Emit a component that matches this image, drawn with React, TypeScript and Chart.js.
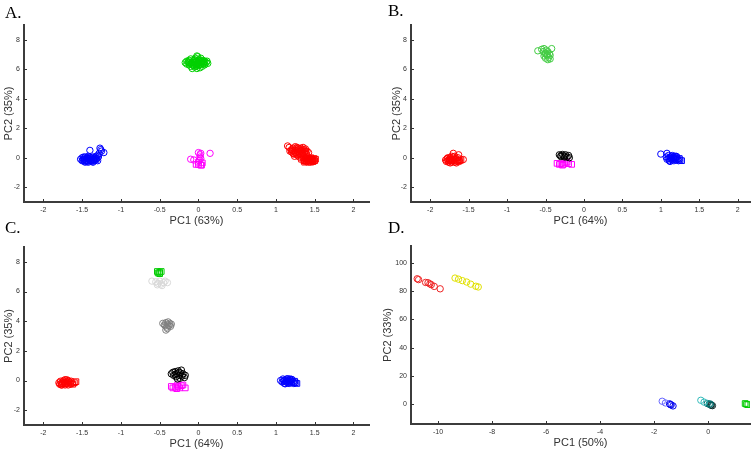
import React, { useEffect, useRef } from "react";
import { Chart, registerables } from "chart.js";

Chart.register(...registerables);

type P = [number, number];

// ---------- tick values ----------
const pcXTicks = [-2, -1.5, -1, -0.5, 0, 0.5, 1, 1.5, 2];
const pcYTicks = [-2, 0, 2, 4, 6, 8];
const dXTicks = [-10, -8, -6, -4, -2, 0];
const dYTicks = [0, 20, 40, 60, 80, 100];

// ---------- Panel A (PC1 63%, PC2 35%) ----------
const A_blue: P[] = [
  [-1.52, -0.1], [-1.5, -0.2], [-1.5, 0.0], [-1.48, -0.1], [-1.47, -0.25], [-1.46, 0.05], [-1.45, -0.15],
  [-1.44, -0.05], [-1.43, -0.25], [-1.42, 0.1], [-1.41, -0.1], [-1.4, -0.2], [-1.39, 0.0], [-1.38, -0.15],
  [-1.37, -0.25], [-1.36, 0.05], [-1.35, -0.1], [-1.34, -0.2], [-1.33, 0.0], [-1.32, -0.15], [-1.31, -0.05],
  [-1.3, -0.2], [-1.29, 0.05], [-1.46, -0.3], [-1.4, 0.05], [-1.36, -0.3], [-1.48, 0.05], [-1.32, 0.1],
  [-1.42, -0.3], [-1.47, -0.1], [-1.44, -0.15], [-1.41, -0.05], [-1.38, -0.1], [-1.35, -0.15], [-1.33, -0.1],
  [-1.45, -0.2], [-1.39, -0.2], [-1.34, -0.05], [-1.49, -0.15], [-1.43, 0.0],
  [-1.4, 0.5], [-1.27, 0.65], [-1.26, 0.55], [-1.25, 0.45], [-1.22, 0.35], [-1.28, 0.3], [-1.3, 0.15],
];
const A_green: P[] = [
  [-0.17, 6.45], [-0.15, 6.35], [-0.15, 6.55], [-0.12, 6.3], [-0.12, 6.45], [-0.12, 6.6], [-0.1, 6.2], [-0.1, 6.4],
  [-0.1, 6.7], [-0.08, 6.5], [-0.07, 6.3], [-0.06, 6.6], [-0.05, 6.15], [-0.05, 6.45], [-0.04, 6.75], [-0.03, 6.35],
  [-0.02, 6.55], [-0.02, 6.05], [-0.01, 6.85], [0.0, 6.25], [0.0, 6.45], [0.01, 6.65], [0.02, 6.1], [0.03, 6.35],
  [0.03, 6.75], [0.04, 6.5], [0.05, 6.2], [0.06, 6.6], [0.07, 6.4], [0.08, 6.3], [0.08, 6.55], [0.1, 6.45],
  [0.12, 6.4], [0.11, 6.55], [-0.08, 6.05], [-0.02, 6.9],
  [-0.09, 6.35], [-0.07, 6.45], [-0.06, 6.25], [-0.04, 6.5], [-0.03, 6.2], [-0.01, 6.4], [0.0, 6.6], [0.01, 6.3],
  [0.02, 6.5], [0.04, 6.4], [0.05, 6.55], [0.06, 6.35], [-0.05, 6.65], [-0.13, 6.5], [0.07, 6.5], [-0.02, 6.3],
];
const A_magentaCircles: P[] = [
  [0.0, 0.35], [0.03, 0.3], [0.02, 0.2], [0.15, 0.3], [-0.1, -0.1], [-0.06, -0.15], [0.02, 0.05], [0.03, -0.05], [0.01, -0.2],
];
const A_magentaSquares: P[] = [
  [-0.03, -0.45], [0.0, -0.45], [0.03, -0.5], [0.05, -0.35], [0.04, -0.5], [0.0, -0.3],
];
const A_redUpper: P[] = [
  [1.17, 0.7], [1.2, 0.55], [1.2, 0.4], [1.22, 0.65], [1.23, 0.25], [1.25, 0.5], [1.26, 0.35], [1.27, 0.7],
  [1.28, 0.15], [1.29, 0.55], [1.3, 0.4], [1.31, 0.25], [1.32, 0.65], [1.33, 0.5], [1.34, 0.3], [1.35, 0.15],
  [1.36, 0.55], [1.37, 0.4], [1.38, 0.6], [1.39, 0.25], [1.4, 0.45], [1.24, 0.1], [1.3, 0.05], [1.18, 0.45],
  [1.22, 0.3], [1.27, 0.2], [1.35, 0.7], [1.42, 0.35], [1.25, 0.75], [1.15, 0.8],
  [1.21, 0.5], [1.24, 0.4], [1.26, 0.6], [1.28, 0.45], [1.3, 0.3], [1.32, 0.45], [1.34, 0.55], [1.36, 0.3],
  [1.38, 0.45], [1.29, 0.65], [1.25, 0.3], [1.33, 0.2],
];
const A_redLower: P[] = [
  [1.33, -0.1], [1.35, 0.0], [1.36, -0.2], [1.38, -0.05], [1.39, -0.25], [1.4, 0.05], [1.41, -0.15], [1.42, -0.3],
  [1.43, -0.05], [1.44, -0.2], [1.45, 0.0], [1.46, -0.1], [1.47, -0.25], [1.48, -0.15], [1.49, -0.05], [1.5, -0.2],
  [1.51, -0.1], [1.37, -0.3], [1.45, -0.3], [1.4, -0.1], [1.37, -0.15], [1.42, -0.2], [1.44, -0.1], [1.47, -0.15],
  [1.39, -0.05], [1.48, -0.25],
];

// ---------- Panel B (PC1 64%, PC2 35%) ----------
const B_red: P[] = [
  [-1.8, -0.15], [-1.79, -0.25], [-1.78, -0.05], [-1.77, -0.2], [-1.76, -0.3], [-1.75, -0.1], [-1.74, 0.0],
  [-1.73, -0.2], [-1.72, -0.3], [-1.71, -0.1], [-1.7, 0.05], [-1.69, -0.2], [-1.68, -0.3], [-1.67, -0.05],
  [-1.66, -0.15], [-1.65, -0.25], [-1.64, 0.0], [-1.63, -0.15], [-1.62, -0.25], [-1.72, 0.1], [-1.77, 0.0],
  [-1.68, 0.1], [-1.74, -0.35], [-1.66, -0.35], [-1.75, -0.2], [-1.71, -0.2], [-1.69, -0.1], [-1.73, -0.1],
  [-1.7, 0.3], [-1.63, 0.2], [-1.57, -0.12],
];
const B_redSquares: P[] = [[-1.6, -0.15], [-1.62, -0.2]];
const B_green: P[] = [
  [-0.6, 7.25], [-0.55, 7.35], [-0.53, 7.2], [-0.52, 7.4], [-0.5, 7.1], [-0.49, 7.3], [-0.48, 6.95], [-0.47, 7.2],
  [-0.46, 6.8], [-0.45, 7.05], [-0.44, 6.7], [-0.42, 7.4], [-0.5, 6.75], [-0.52, 6.9], [-0.48, 7.0], [-0.47, 6.65],
  [-0.44, 6.95], [-0.51, 7.05],
];
const B_black: P[] = [
  [-0.32, 0.2], [-0.3, 0.15], [-0.28, 0.22], [-0.26, 0.12], [-0.24, 0.2], [-0.22, 0.05], [-0.2, 0.15],
  [-0.19, 0.0], [-0.25, 0.05], [-0.3, 0.08],
];
const B_magenta: P[] = [
  [-0.35, -0.38], [-0.32, -0.45], [-0.3, -0.4], [-0.27, -0.45], [-0.25, -0.35], [-0.22, -0.3], [-0.2, -0.4],
  [-0.16, -0.45], [-0.28, -0.5],
];
const B_blue: P[] = [
  [1.0, 0.25], [1.08, 0.3], [1.07, 0.05], [1.08, -0.1], [1.1, 0.15], [1.1, -0.05], [1.11, -0.2], [1.12, 0.05],
  [1.13, -0.1], [1.14, 0.1], [1.15, -0.15], [1.16, 0.0], [1.17, -0.2], [1.18, 0.1], [1.19, -0.05], [1.2, -0.15],
  [1.21, 0.05], [1.22, -0.1], [1.23, -0.2], [1.15, 0.15], [1.12, -0.25], [1.2, 0.1], [1.14, -0.05],
  [1.17, -0.1], [1.19, 0.0], [1.13, 0.0],
];
const B_blueSquares: P[] = [[1.25, -0.15], [1.27, -0.2], [1.24, -0.05]];

// ---------- Panel C (PC1 64%, PC2 35%) ----------
const C_red: P[] = [
  [-1.8, -0.15], [-1.79, -0.25], [-1.78, -0.05], [-1.77, -0.2], [-1.76, -0.3], [-1.75, -0.1], [-1.74, 0.0],
  [-1.73, -0.2], [-1.72, -0.3], [-1.71, -0.1], [-1.7, 0.05], [-1.69, -0.2], [-1.68, -0.3], [-1.67, -0.05],
  [-1.66, -0.15], [-1.65, -0.25], [-1.64, -0.05], [-1.63, -0.2], [-1.72, 0.05], [-1.77, -0.3], [-1.68, 0.0],
  [-1.75, -0.2], [-1.71, -0.2], [-1.73, -0.1], [-1.69, -0.1],
];
const C_redSquares: P[] = [[-1.6, -0.15], [-1.58, -0.08], [-1.62, -0.25]];
const C_greenSquares: P[] = [[-0.53, 7.35], [-0.5, 7.3], [-0.48, 7.35], [-0.5, 7.2], [-0.52, 7.25]];
const C_lightGray: P[] = [
  [-0.6, 6.7], [-0.55, 6.65], [-0.52, 6.55], [-0.5, 6.7], [-0.48, 6.5], [-0.45, 6.6], [-0.43, 6.7], [-0.4, 6.6],
  [-0.47, 6.4], [-0.53, 6.45],
];
const C_gray: P[] = [
  [-0.46, 3.85], [-0.44, 3.75], [-0.42, 3.9], [-0.41, 3.6], [-0.4, 3.8], [-0.39, 3.95], [-0.38, 3.7],
  [-0.37, 3.85], [-0.36, 3.65], [-0.42, 3.4], [-0.4, 3.5], [-0.43, 3.7], [-0.35, 3.8],
];
const C_black: P[] = [
  [-0.35, 0.45], [-0.33, 0.55], [-0.32, 0.35], [-0.3, 0.6], [-0.29, 0.25], [-0.28, 0.45], [-0.26, 0.65],
  [-0.25, 0.35], [-0.24, 0.15], [-0.23, 0.5], [-0.22, 0.7], [-0.21, 0.3], [-0.2, 0.45], [-0.18, 0.2],
  [-0.17, 0.35], [-0.27, 0.1], [-0.3, 0.4], [-0.25, 0.55],
];
const C_magenta: P[] = [
  [-0.35, -0.4], [-0.33, -0.5], [-0.3, -0.45], [-0.28, -0.55], [-0.26, -0.4], [-0.24, -0.5], [-0.22, -0.35],
  [-0.2, -0.3], [-0.17, -0.5], [-0.27, -0.3],
];
const C_blue: P[] = [
  [1.06, 0.0], [1.08, -0.1], [1.09, 0.1], [1.1, -0.05], [1.11, -0.2], [1.12, 0.05], [1.13, -0.1], [1.14, 0.1],
  [1.15, -0.15], [1.16, 0.0], [1.17, -0.2], [1.18, 0.1], [1.19, -0.05], [1.2, -0.15], [1.21, 0.05], [1.22, -0.1],
  [1.23, -0.2], [1.15, 0.12], [1.12, -0.22], [1.2, 0.08], [1.14, -0.05], [1.17, -0.08], [1.19, 0.02], [1.11, 0.0],
];
const C_blueSquares: P[] = [[1.27, -0.2], [1.25, -0.15], [1.24, -0.05]];

// ---------- Panel D (PC1 50%, PC2 33%) ----------
const D_red: P[] = [
  [-10.77, 88.8], [-10.72, 88.2], [-10.46, 86.2], [-10.37, 86.0], [-10.3, 85.2], [-10.25, 84.6], [-10.14, 83.4], [-9.92, 81.7],
];
const D_yellow: P[] = [
  [-9.37, 89.3], [-9.24, 88.5], [-9.1, 87.5], [-8.94, 86.5], [-8.79, 85.0], [-8.6, 83.5], [-8.51, 83.0],
];
const D_blueLight: P[] = [[-1.7, 2.1], [-1.58, 0.9]];
const D_blue: P[] = [[-1.43, 0.3], [-1.37, -0.5], [-1.3, -1.2], [-1.4, -0.2]];
const D_cyan: P[] = [[-0.27, 2.8], [-0.15, 1.5]];
const D_teal: P[] = [[-0.03, 0.5], [0.04, 0.0], [0.08, 0.2]];
const D_dark: P[] = [[0.1, -0.5], [0.16, -1.0], [0.12, -0.8]];
const D_green: P[] = [[1.37, 0.5], [1.42, 0.0], [1.47, -0.3]];

// ---------- text ----------
const xTitles = ["PC1 (63%)", "PC1 (64%)", "PC1 (64%)", "PC1 (50%)"];
const yTitles = ["PC2 (35%)", "PC2 (35%)", "PC2 (35%)", "PC2 (33%)"];
const panelLetters = ["A.", "B.", "C.", "D."];

type DS = { data: P[]; color: string; square?: boolean; r?: number };

const mk = (d: DS) => ({
  data: d.data.map(([x, y]) => ({ x, y })),
  borderColor: d.color,
  backgroundColor: "rgba(0,0,0,0)",
  pointBackgroundColor: "rgba(0,0,0,0)",
  pointBorderColor: d.color,
  pointBorderWidth: 1,
  pointStyle: d.square ? "rect" : "circle",
  pointRadius: d.r ?? (d.square ? 4 : 3.2),
  showLine: false,
});

const innerTicks = {
  id: "innerTicks",
  afterDraw(chart: any) {
    const { ctx, chartArea, scales } = chart;
    ctx.save();
    ctx.strokeStyle = "#333";
    ctx.lineWidth = 1;
    for (const t of scales.x.ticks) {
      const px = Math.round(scales.x.getPixelForValue(t.value)) + 0.5;
      ctx.beginPath();
      ctx.moveTo(px, chartArea.bottom);
      ctx.lineTo(px, chartArea.bottom - 3);
      ctx.stroke();
    }
    for (const t of scales.y.ticks) {
      const py = Math.round(scales.y.getPixelForValue(t.value)) + 0.5;
      ctx.beginPath();
      ctx.moveTo(chartArea.left, py);
      ctx.lineTo(chartArea.left + 3, py);
      ctx.stroke();
    }
    ctx.restore();
  },
};

type Panel = {
  left: number; top: number; w: number; h: number;
  area: { l: number; t: number; r: number; b: number };
  x: [number, number]; y: [number, number];
  xt: number[]; yt: number[];
  ytPad: number; xtPad: number;
  sets: DS[];
};

const panels: Panel[] = [
  {
    left: 0, top: 0, w: 375, h: 232, area: { l: 24, t: 25, r: 369, b: 202 },
    x: [-2.25, 2.2], y: [-3, 9], xt: pcXTicks, yt: pcYTicks, ytPad: 2.4, xtPad: 4.4,
    sets: [
      { data: A_blue, color: "#0000ff" },
      { data: A_green, color: "#00d000" },
      { data: A_magentaCircles, color: "#ff00ff" },
      { data: A_magentaSquares, color: "#ff00ff", square: true },
      { data: A_redUpper, color: "#ff0000" },
      { data: A_redLower, color: "#ff0000", square: true },
    ],
  },
  {
    left: 375, top: 0, w: 380, h: 232, area: { l: 36, t: 25, r: 378, b: 202 },
    x: [-2.25, 2.16], y: [-3, 9], xt: pcXTicks, yt: pcYTicks, ytPad: 15.4, xtPad: 4.4,
    sets: [
      { data: B_red, color: "#ff0000" },
      { data: B_redSquares, color: "#ff0000", square: true },
      { data: B_green, color: "#44cc44" },
      { data: B_black, color: "#000000" },
      { data: B_magenta, color: "#ff00ff", square: true },
      { data: B_blue, color: "#0000ff" },
      { data: B_blueSquares, color: "#0000ff", square: true },
    ],
  },
  {
    left: 0, top: 225, w: 375, h: 228, area: { l: 24, t: 22, r: 369, b: 200 },
    x: [-2.25, 2.2], y: [-3, 9], xt: pcXTicks, yt: pcYTicks, ytPad: 2.4, xtPad: 2.4,
    sets: [
      { data: C_red, color: "#ff0000" },
      { data: C_redSquares, color: "#ff0000", square: true },
      { data: C_lightGray, color: "#d8d8d8" },
      { data: C_greenSquares, color: "#00cc00", square: true },
      { data: C_gray, color: "#808080" },
      { data: C_black, color: "#000000" },
      { data: C_magenta, color: "#ff00ff", square: true },
      { data: C_blue, color: "#0000ff" },
      { data: C_blueSquares, color: "#0000ff", square: true },
    ],
  },
  {
    left: 375, top: 225, w: 380, h: 228, area: { l: 36, t: 21, r: 378, b: 199 },
    x: [-11, 1.55], y: [-14, 112], xt: dXTicks, yt: dYTicks, ytPad: 6.4, xtPad: 3.4,
    sets: [
      { data: D_red, color: "#ee2222" },
      { data: D_yellow, color: "#e0e000" },
      { data: D_blueLight, color: "#6666ff" },
      { data: D_blue, color: "#0000ee" },
      { data: D_cyan, color: "#33bbbb" },
      { data: D_teal, color: "#007070" },
      { data: D_dark, color: "#103030" },
      { data: D_green, color: "#00cc00", square: true },
    ],
  },
];

const tickFont = { family: "'Liberation Sans', Arial, sans-serif", size: 7 };
const titleFont = { family: "'Liberation Sans', Arial, sans-serif", size: 11 };

function PanelChart({ p, idx }: { p: Panel; idx: number }) {
  const ref = useRef<HTMLCanvasElement>(null);
  useEffect(() => {
    if (!ref.current) return;
    const chart = new Chart(ref.current, {
      type: "scatter",
      data: { datasets: p.sets.map(mk) as any },
      plugins: [innerTicks as any],
      options: {
        animation: false,
        responsive: false,
        maintainAspectRatio: false,
        devicePixelRatio: 1,
        layout: { padding: { top: p.area.t, right: p.w - p.area.r, left: 0, bottom: 0 } },
        plugins: { legend: { display: false }, tooltip: { enabled: false } },
        scales: {
          x: {
            type: "linear",
            min: p.x[0], max: p.x[1],
            afterBuildTicks: (s: any) => { s.ticks = p.xt.map((v) => ({ value: v })); },
            afterFit: (s: any) => { s.height = p.h - p.area.b; },
            ticks: { callback: (v: any) => String(v), font: tickFont, color: "#333", padding: 4, maxRotation: 0, autoSkip: false },
            grid: { display: false, drawTicks: false },
            border: { display: true, color: "#3c3c3c", width: 2 },
            title: { display: true, text: xTitles[idx], font: titleFont, color: "#333", padding: { top: 0, bottom: p.xtPad } },
          },
          y: {
            type: "linear",
            min: p.y[0], max: p.y[1],
            afterBuildTicks: (s: any) => { s.ticks = p.yt.map((v) => ({ value: v })); },
            afterFit: (s: any) => { s.width = p.area.l; },
            ticks: { callback: (v: any) => String(v), font: tickFont, color: "#333", padding: 4, autoSkip: false },
            grid: { display: false, drawTicks: false },
            border: { display: true, color: "#3c3c3c", width: 2 },
            title: { display: true, text: yTitles[idx], font: titleFont, color: "#333", padding: { top: p.ytPad, bottom: 0 } },
          },
        },
      } as any,
    });
    return () => chart.destroy();
  }, [p, idx]);
  return (
    <canvas
      ref={ref}
      width={p.w}
      height={p.h}
      style={{ position: "absolute", left: p.left, top: p.top, width: p.w, height: p.h }}
    />
  );
}

const letterPos = [
  { left: 5, top: 4 },
  { left: 388, top: 2 },
  { left: 5, top: 219 },
  { left: 388, top: 219 },
];

export default function App() {
  return (
    <div style={{ position: "fixed", left: 0, top: 0, width: 755, height: 453, background: "#fff", overflow: "hidden" }}>
      {panels.map((p, i) => (
        <PanelChart key={i} p={p} idx={i} />
      ))}
      {panelLetters.map((t, i) => (
        <div
          key={t}
          style={{
            position: "absolute",
            left: letterPos[i].left,
            top: letterPos[i].top,
            fontFamily: "'Liberation Serif', 'Times New Roman', serif",
            fontSize: 17,
            lineHeight: "17px",
            color: "#000",
          }}
        >
          {t}
        </div>
      ))}
    </div>
  );
}
